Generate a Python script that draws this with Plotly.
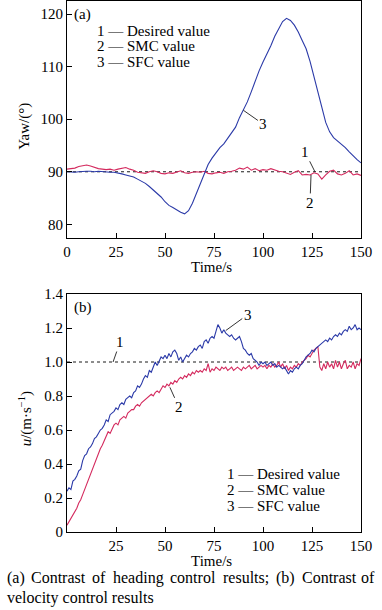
import plotly.graph_objects as go

# ---------------- data ----------------
# (a) heading control, yaw in degrees
T_YAW = list(range(0, 151, 2))
YAW_DESIRED = 90
YAW_SMC = [90.5, 90.6, 90.7, 91.0, 91.2, 91.3, 91.1, 90.8, 90.6, 90.5,
           90.4, 90.5, 90.3, 90.5, 90.6, 90.8, 90.5, 90.3, 89.9, 89.8,
           89.7, 90.0, 90.2, 90.0, 89.7, 89.6, 89.8, 89.7, 90.0, 90.2,
           89.8, 89.7, 89.9, 90.0, 89.9, 90.1, 89.7, 89.6, 89.8, 89.9,
           89.7, 90.0, 90.1, 90.3, 90.7, 90.5, 90.9, 90.3, 90.6, 90.2,
           90.4, 90.3, 90.6, 90.3, 90.1, 90.0, 89.8, 89.5, 89.9, 90.2,
           89.4, 89.5, 89.4, 89.8, 89.6, 88.6, 89.4, 90.1, 90.3, 89.6,
           89.4, 89.7, 90.2, 89.4, 89.6, 89.3]
YAW_SFC = [90.0, 89.9, 89.9, 90.0, 90.1, 90.1, 90.1, 90.0, 90.1, 90.0,
           89.9, 89.9, 89.9, 89.8, 89.6, 89.4, 89.2, 89.0, 88.6, 88.2,
           87.8, 87.2, 86.5, 85.8, 85.2, 84.3, 83.6, 83.2, 82.7, 82.3,
           82.0, 82.6, 84.0, 85.8, 87.8, 89.6, 91.4, 92.6, 93.6, 94.6,
           95.3, 96.4, 97.3, 98.5, 100.3, 101.8, 103.3, 105.2, 107.3, 109.2,
           110.9, 112.4, 114.0, 115.8, 117.3, 118.6, 119.2, 118.8, 117.9, 116.6,
           115.0, 113.4, 111.0, 107.9, 105.0, 102.3, 99.4, 97.6, 96.5, 95.9,
           95.3, 94.6, 93.8, 93.0, 92.3, 91.7]

# (b) velocity control, u in m/s
T_U = list(range(0, 151))
U_DESIRED = 1.0
U_SFC = [0.24, 0.26, 0.25, 0.30, 0.31, 0.33, 0.36, 0.37, 0.42, 0.45,
         0.46, 0.49, 0.50, 0.52, 0.55, 0.56, 0.58, 0.60, 0.61, 0.63,
         0.66, 0.65, 0.69, 0.70, 0.71, 0.73, 0.72, 0.75, 0.76, 0.75,
         0.78, 0.79, 0.80, 0.79, 0.82, 0.83, 0.86, 0.85, 0.87, 0.90,
         0.92, 0.91, 0.95, 0.94, 0.97, 1.00, 0.98, 1.01, 1.03, 1.02,
         1.04, 1.02, 1.05, 1.03, 1.06, 1.07, 1.05, 1.01, 1.03, 1.00,
         1.02, 1.04, 1.03, 1.05, 1.06, 1.08, 1.07, 1.09, 1.10, 1.08,
         1.12, 1.13, 1.11, 1.14, 1.15, 1.14, 1.18, 1.22, 1.20, 1.17,
         1.19, 1.17, 1.16, 1.15, 1.16, 1.14, 1.13, 1.14, 1.15, 1.12,
         1.08, 1.07, 1.05, 1.04, 1.05, 1.02, 1.01, 1.00, 0.98, 1.00,
         0.99, 1.00, 0.98, 0.99, 1.00, 0.98, 0.99, 0.97, 0.98, 0.97,
         0.96, 0.97, 0.95, 0.93, 0.95, 0.94, 0.96, 0.97, 0.96, 0.98,
         0.99, 1.01, 1.03, 1.04, 1.05, 1.07, 1.06, 1.08, 1.09, 1.10,
         1.11, 1.12, 1.13, 1.12, 1.14, 1.13, 1.15, 1.16, 1.15, 1.17,
         1.16, 1.18, 1.19, 1.18, 1.21, 1.19, 1.20, 1.22, 1.19, 1.20, 1.19]
U_SMC = [0.04, 0.06, 0.08, 0.10, 0.12, 0.14, 0.17, 0.19, 0.22, 0.25,
         0.28, 0.32, 0.34, 0.38, 0.40, 0.43, 0.46, 0.49, 0.51, 0.54,
         0.57, 0.59, 0.58, 0.61, 0.63, 0.64, 0.63, 0.66, 0.67, 0.68,
         0.67, 0.70, 0.71, 0.72, 0.72, 0.74, 0.75, 0.74, 0.76, 0.77,
         0.78, 0.79, 0.80, 0.81, 0.80, 0.82, 0.83, 0.82, 0.84, 0.86,
         0.85, 0.87, 0.86, 0.88, 0.87, 0.89, 0.88, 0.90, 0.91, 0.90,
         0.92, 0.91, 0.93, 0.92, 0.94, 0.93, 0.95, 0.94, 0.95, 0.94,
         0.96, 0.95, 0.99, 0.94, 0.96, 0.95, 0.97, 0.96, 0.95, 0.97,
         0.96, 0.97, 0.95, 0.96, 0.97, 0.95, 0.96, 0.97, 0.96, 0.95,
         0.97, 0.96, 0.97, 0.98, 0.96, 0.97, 0.98, 0.96, 0.97, 0.98,
         0.97, 0.98, 0.96, 0.98, 0.97, 0.99, 0.97, 0.98, 1.00, 0.97,
         0.99, 0.96, 0.98, 0.95, 0.97, 0.96, 0.98, 0.97, 0.99, 0.98,
         1.00, 1.01, 1.02, 1.04, 1.03, 1.05, 1.07, 1.08, 1.09, 0.97,
         0.95, 0.99, 0.96, 1.00, 0.97, 0.99, 0.96, 1.01, 0.97, 1.00,
         0.96, 0.99, 1.01, 0.96, 0.98, 0.97, 1.00, 0.96, 0.99, 0.98, 1.02]

X_TICKS_A = [0, 25, 50, 75, 100, 125, 150]
X_TICKS_B = [25, 50, 75, 100, 125, 150]
Y_TICKS_A = [80, 90, 100, 110, 120]
Y_TICKS_B = [0, 0.2, 0.4, 0.6, 0.8, 1.0, 1.2, 1.4]
Y_TICKTEXT_B = ["0", "0.2", "0.4", "0.6", "0.8", "1.0", "1.2", "1.4"]
LEGEND_LINES = ["1 — Desired value", "2 — SMC value", "3 — SFC value"]
CAPTION_LINE1 = ["(a)", "Contrast", "of", "heading", "control", "results;", "(b)", "Contrast", "of"]
CAPTION_LINE2 = "velocity control results"

# ---------------- style ----------------
FONT = "Liberation Serif, Times New Roman, serif"
BLUE = "#2b3aa8"
RED = "#d42a5e"
LW = 1.1

fig = go.Figure()
fig.add_trace(go.Scatter(x=[0, 150], y=[YAW_DESIRED, YAW_DESIRED], mode="lines",
                         line=dict(color="black", width=0.9, dash="dot"), xaxis="x", yaxis="y"))
fig.add_trace(go.Scatter(x=T_YAW, y=YAW_SMC, mode="lines", line=dict(color=RED, width=LW),
                         xaxis="x", yaxis="y"))
fig.add_trace(go.Scatter(x=T_YAW, y=YAW_SFC, mode="lines", line=dict(color=BLUE, width=LW),
                         xaxis="x", yaxis="y"))
fig.add_trace(go.Scatter(x=[0, 150], y=[U_DESIRED, U_DESIRED], mode="lines",
                         line=dict(color="black", width=0.9, dash="dot"), xaxis="x2", yaxis="y2"))
fig.add_trace(go.Scatter(x=T_U, y=U_SMC, mode="lines", line=dict(color=RED, width=LW),
                         xaxis="x2", yaxis="y2"))
fig.add_trace(go.Scatter(x=T_U, y=U_SFC, mode="lines", line=dict(color=BLUE, width=LW),
                         xaxis="x2", yaxis="y2"))

axis_common = dict(showline=True, linecolor="black", linewidth=1, mirror=True,
                   ticks="inside", ticklen=5, tickwidth=1, tickcolor="black",
                   showgrid=False, zeroline=False, automargin=False,
                   tickfont=dict(family=FONT, size=15, color="black"))

fig.update_layout(
    width=382, height=610,
    margin=dict(l=67, r=21, t=1, b=78, autoexpand=False),
    paper_bgcolor="white", plot_bgcolor="white",
    showlegend=False,
    font=dict(family=FONT, size=15, color="black"),
    xaxis=dict(range=[0, 150], tickvals=X_TICKS_A, domain=[0, 1], anchor="y", **axis_common),
    yaxis=dict(range=[77.4, 122.5], tickvals=Y_TICKS_A, domain=[0.5537, 1], anchor="x", **axis_common),
    xaxis2=dict(range=[0, 150], tickvals=X_TICKS_B, domain=[0, 1], anchor="y2", **axis_common),
    yaxis2=dict(range=[0, 1.4], tickvals=Y_TICKS_B, ticktext=Y_TICKTEXT_B, domain=[0, 0.4482],
                anchor="x2", **axis_common),
)

ann = []
tf = dict(family=FONT, size=15, color="black")
# panel labels
ann.append(dict(text="(a)", xref="x domain", yref="y domain", x=0.017, y=0.945,
                xanchor="left", yanchor="middle", showarrow=False, font=tf))
ann.append(dict(text="(b)", xref="x2 domain", yref="y2 domain", x=0.017, y=0.945,
                xanchor="left", yanchor="middle", showarrow=False, font=tf))
# legends as text
for i, (ya, yb) in enumerate(zip([0.874, 0.811, 0.744], [0.244, 0.176, 0.109])):
    ann.append(dict(text=LEGEND_LINES[i], xref="x domain", yref="y domain", x=0.095, y=ya,
                    xanchor="left", yanchor="middle", showarrow=False, font=tf))
    ann.append(dict(text=LEGEND_LINES[i], xref="x2 domain", yref="y2 domain", x=0.537, y=yb,
                    xanchor="left", yanchor="middle", showarrow=False, font=tf))

arrow = dict(showarrow=True, arrowhead=0, arrowwidth=0.8, arrowcolor="black", standoff=0,
             font=tf)
# leader labels, top
ann.append(dict(text="3", xref="x", yref="y", x=90, y=101.7, ax=20, ay=14, **arrow))
ann.append(dict(text="1", xref="x", yref="y", x=126.5, y=90, ax=-10, ay=-20, **arrow))
ann.append(dict(text="2", xref="x", yref="y", x=124.5, y=89.4, ax=-1, ay=28, **arrow))
# leader labels, bottom
ann.append(dict(text="3", xref="x2", yref="y2", x=81, y=1.185, ax=22, ay=-16, **arrow))
ann.append(dict(text="1", xref="x2", yref="y2", x=23.5, y=1.0, ax=7, ay=-20, **arrow))
ann.append(dict(text="2", xref="x2", yref="y2", x=52.5, y=0.851, ax=9, ay=20, **arrow))

# axis titles
centre = dict(xanchor="center", yanchor="middle", showarrow=False, font=tf)
ann.append(dict(text="Yaw/(°)", xref="paper", yref="paper", x=-0.143, y=0.765, textangle=-90,
                **centre))
ann.append(dict(text="<i>u</i>/(m·s<sup>−1</sup>)", xref="paper", yref="paper", x=-0.143, y=0.214,
                textangle=-90, **centre))
ann.append(dict(text="Time/s", xref="paper", yref="paper", x=0.493, y=0.499, **centre))
ann.append(dict(text="Time/s", xref="paper", yref="paper", x=0.493, y=-0.054, **centre))

# caption, first line justified word by word (pixel centres -> paper coords)
cf = dict(family=FONT, size=16, color="black")
word_px = [5, 58.0, 99.0, 138.1, 193.3, 246.2, 285.9, 329.5, 377]
for j, w in enumerate(CAPTION_LINE1):
    anchor = "left" if j == 0 else ("right" if j == len(CAPTION_LINE1) - 1 else "center")
    ann.append(dict(text=w, xref="paper", yref="paper", x=(word_px[j] - 67) / 294, y=-0.086,
                    xanchor=anchor, yanchor="middle", showarrow=False, font=cf))
ann.append(dict(text=CAPTION_LINE2, xref="paper", yref="paper",
                x=-0.211, y=-0.124, xanchor="left", yanchor="middle", showarrow=False, font=cf))

fig.update_layout(annotations=ann)
fig.write_html("out.html", config={"displayModeBar": False},
               post_script="document.body.style.margin='0';document.body.style.overflow='hidden';")
